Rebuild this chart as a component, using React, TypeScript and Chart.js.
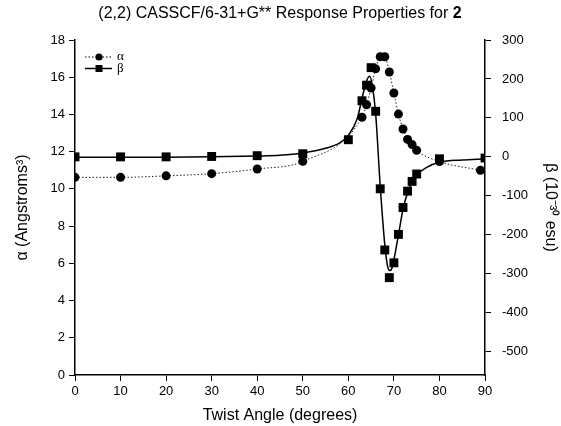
import React, { useEffect, useRef } from "react";
import { Chart, registerables } from "chart.js";

Chart.register(...registerables);

const titleMain = "(2,2) CASSCF/6-31+G** Response Properties for ";
const titleBold = "2";
const xAxisTitle = "Twist Angle (degrees)";
const leftAxisTitle = "α (Angstroms³)";
const rightAxisTitle = "β (10⁻³⁰ esu)";
const legendLabels = ["α", "β"];

const alphaAngles = [0, 10, 20, 30, 40, 50, 63, 64, 65, 66, 67, 68, 69, 70, 71, 72, 73, 74, 75, 80, 89];
const alphaValues = [10.62, 10.62, 10.7, 10.82, 11.07, 11.48, 13.85, 14.52, 15.42, 16.45, 17.1, 17.1, 16.28, 15.15, 14.02, 13.22, 12.66, 12.38, 12.07, 11.47, 11.0];

const betaAngles = [0, 10, 20, 30, 40, 50, 60, 63, 64, 65, 66, 67, 68, 69, 70, 71, 72, 73, 74, 75, 80, 90];
const betaValues = [0, 0, 0, 1, 3, 8, 44, 144, 184, 229, 117, -82, -239, -310, -272, -199, -130, -88, -63, -44, -5, -3];

const betaFitAngles = [0, 10, 20, 30, 40, 45, 50, 55, 58, 60, 62, 63, 64, 64.7, 65.3, 66, 67, 68, 68.6, 69.1, 69.6, 70, 71, 72, 73, 74, 75, 77, 80, 85, 90];
const betaFitValues = [-1, -1, -1, 0, 2, 4, 10, 22, 35, 55, 100, 150, 195, 207, 180, 110, -75, -225, -280, -292, -285, -265, -200, -135, -92, -65, -47, -28, -14, -8, -5];

const xTicks = [0, 10, 20, 30, 40, 50, 60, 70, 80, 90];
const leftTicks = [0, 2, 4, 6, 8, 10, 12, 14, 16, 18];
const rightTicks = [-500, -400, -300, -200, -100, 0, 100, 200, 300];

const SANS = '"Liberation Sans", Arial, sans-serif';

export default function App() {
  const ref = useRef<HTMLCanvasElement>(null);

  useEffect(() => {
    const canvas = ref.current;
    if (!canvas) return;

    const overlay = {
      id: "overlay",
      afterDraw(chart: any) {
        const c = chart.ctx as CanvasRenderingContext2D;
        c.save();
        const normal = `16px ${SANS}`;
        const bold = `bold 16px ${SANS}`;
        c.font = normal;
        const w1 = c.measureText(titleMain).width;
        c.font = bold;
        const w2 = c.measureText(titleBold).width;
        const x0 = 280 - (w1 + w2) / 2;
        c.fillStyle = "#000";
        c.textAlign = "left";
        c.textBaseline = "middle";
        c.font = normal;
        c.fillText(titleMain, x0, 14);
        c.font = bold;
        c.fillText(titleBold, x0 + w1, 14);

        const lx0 = 85, lx1 = 112, mx = 99, tx = 117;
        const ya = 57, yb = 68.5;
        c.strokeStyle = "#000";
        c.lineWidth = 1;
        c.setLineDash([1.5, 2]);
        c.beginPath();
        c.moveTo(lx0, ya);
        c.lineTo(lx1, ya);
        c.stroke();
        c.setLineDash([]);
        c.beginPath();
        c.arc(mx, ya, 3.6, 0, Math.PI * 2);
        c.fill();
        c.lineWidth = 1.5;
        c.beginPath();
        c.moveTo(lx0, yb);
        c.lineTo(lx1, yb);
        c.stroke();
        c.fillRect(mx - 3.5, yb - 3.5, 7, 7);
        c.font = `13px "Liberation Serif", serif`;
        c.fillText(legendLabels[0], tx, ya);
        c.fillText(legendLabels[1], tx, yb);
        c.restore();
      },
    };

    const chart = new Chart(canvas, {
      type: "scatter",
      data: {
        datasets: [
          {
            label: legendLabels[0],
            data: alphaAngles.map((x, i) => ({ x, y: alphaValues[i] })),
            yAxisID: "y",
            showLine: true,
            borderColor: "#222",
            borderWidth: 1,
            borderDash: [1.5, 2],
            cubicInterpolationMode: "monotone",
            pointStyle: "circle",
            pointRadius: 4.5,
            pointBackgroundColor: "#000",
            pointBorderColor: "#000",
            pointBorderWidth: 0,
          },
          {
            label: legendLabels[1],
            data: betaAngles.map((x, i) => ({ x, y: betaValues[i] })),
            yAxisID: "y1",
            showLine: false,
            pointStyle: "rect",
            pointRadius: 6.3,
            pointBackgroundColor: "#000",
            pointBorderColor: "#000",
            pointBorderWidth: 0,
          },
          {
            label: "β fit",
            data: betaFitAngles.map((x, i) => ({ x, y: betaFitValues[i] })),
            yAxisID: "y1",
            showLine: true,
            borderColor: "#000",
            borderWidth: 1.5,
            cubicInterpolationMode: "monotone",
            pointRadius: 0,
          },
        ],
      },
      options: {
        animation: false,
        responsive: true,
        maintainAspectRatio: false,
        layout: { padding: { top: 40, left: 0, right: 0, bottom: 0 } },
        plugins: {
          legend: { display: false },
          title: { display: false },
          tooltip: { enabled: false },
        },
        scales: {
          x: {
            type: "linear",
            min: 0,
            max: 90,
            afterBuildTicks: (s: any) => {
              s.ticks = xTicks.map((v) => ({ value: v }));
            },
            afterFit: (s: any) => {
              s.height = 51;
            },
            grid: { drawOnChartArea: false, drawTicks: true, tickLength: 6, color: "#000", lineWidth: 1 },
            border: { display: true, color: "#000", width: 1.5 },
            ticks: { color: "#000", font: { family: SANS, size: 13 }, padding: 3, maxRotation: 0 },
            title: {
              display: true,
              text: xAxisTitle,
              color: "#000",
              font: { family: SANS, size: 16 },
              padding: { top: 0, bottom: 1 },
            },
          },
          y: {
            type: "linear",
            position: "left",
            min: 0,
            max: 18,
            afterBuildTicks: (s: any) => {
              s.ticks = leftTicks.map((v) => ({ value: v }));
            },
            afterFit: (s: any) => {
              s.width = 75;
            },
            grid: { drawOnChartArea: false, drawTicks: true, tickLength: 6, color: "#000", lineWidth: 1 },
            border: { display: true, color: "#000", width: 1.5 },
            ticks: { color: "#000", font: { family: SANS, size: 13 }, padding: 4 },
            title: {
              display: true,
              text: leftAxisTitle,
              color: "#000",
              font: { family: SANS, size: 16 },
              padding: { top: 13, bottom: 0 },
            },
          },
          y1: {
            type: "linear",
            position: "right",
            min: -560,
            max: 300,
            afterBuildTicks: (s: any) => {
              s.ticks = rightTicks.map((v) => ({ value: v }));
            },
            afterFit: (s: any) => {
              s.width = 76;
            },
            grid: { drawOnChartArea: false, drawTicks: true, tickLength: 6, color: "#000", lineWidth: 1 },
            border: { display: true, color: "#000", width: 1.5 },
            ticks: { color: "#000", font: { family: SANS, size: 13 }, padding: 11 },
            title: {
              display: true,
              text: rightAxisTitle,
              color: "#000",
              font: { family: SANS, size: 16 },
              padding: { top: 1, bottom: 0 },
            },
          },
        },
      },
      plugins: [overlay],
    } as any);

    return () => chart.destroy();
  }, []);

  return (
    <div style={{ position: "fixed", left: 0, top: 0, width: 561, height: 426, background: "#fff" }}>
      <canvas ref={ref} />
    </div>
  );
}
